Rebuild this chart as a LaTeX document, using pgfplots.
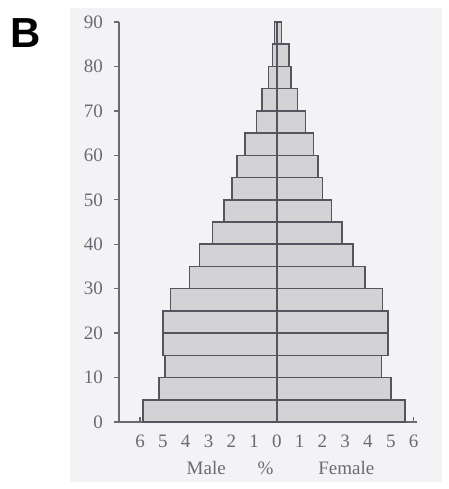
\documentclass[border=0pt]{standalone}
\usepackage{fontspec}
\setmainfont{Liberation Serif}
\newfontfamily\panelfont{Liberation Sans}
\usepackage{pgfplots}
\usepackage{pgfplotstable}
\pgfplotsset{compat=1.18}

\definecolor{scanbg}{HTML}{F3F3F6}
\definecolor{barfill}{HTML}{D3D3D6}
\definecolor{barline}{HTML}{55555F}
\definecolor{inkgray}{HTML}{6A6A74}

% age group midpoint, male % (negative), female %
\pgfplotstableread{
age  male   female
2.5  -5.87  5.62
7.5  -5.18  5.01
12.5 -4.92  4.60
17.5 -5.01  4.89
22.5 -5.01  4.89
27.5 -4.67  4.64
32.5 -3.84  3.88
37.5 -3.39  3.33
42.5 -2.82  2.85
47.5 -2.31  2.39
52.5 -1.97  2.01
57.5 -1.75  1.80
62.5 -1.39  1.60
67.5 -0.89  1.26
72.5 -0.65  0.91
77.5 -0.37  0.63
82.5 -0.19  0.53
87.5 -0.11  0.21
}\pyramid

\begin{document}
\begin{tikzpicture}
\useasboundingbox (0,0) rectangle (224.5pt,244.5pt);
\fill[scanbg] (35pt,3.5pt) rectangle (221pt,240.5pt);
\node[font=\panelfont\bfseries\fontsize{21}{22}\selectfont] at (13pt,228pt) {B};
\begin{axis}[
  at={(59.5pt,33.5pt)}, anchor=south west,
  scale only axis,
  width=149pt, height=200pt,
  xmin=-6.93, xmax=6.15,
  ymin=0, ymax=90,
  axis lines=left,
  axis line style={-, inkgray, line width=0.8pt},
  tick style={inkgray, line width=0.7pt},
  tick align=inside,
  major tick length=2.5pt,
  xtick={-6,-5,-4,-3,-2,-1,0,1,2,3,4,5,6},
  ytick={0,10,20,30,40,50,60,70,80,90},
  xticklabel={\pgfmathparse{abs(\tick)}\pgfmathprintnumber{\pgfmathresult}},
  /pgf/number format/assume math mode=true,
  tick label style={font=\fontsize{9.5}{10}\selectfont, text=inkgray},
  xticklabel style={yshift=-3pt},
  yticklabel style={xshift=-2pt},
  xbar, bar width=5, bar shift=0pt,
  clip=false,
]
\addplot[fill=barfill, draw=barline, line width=0.8pt] table[x=male, y=age] {\pyramid};
\addplot[fill=barfill, draw=barline, line width=0.8pt] table[x=female, y=age] {\pyramid};
\addplot[sharp plot, barline, line width=0.8pt] coordinates {(0,0) (0,90)};
\node[font=\fontsize{9.5}{10}\selectfont, text=inkgray] at (axis cs:-3.1,0) [yshift=-23pt] {Male};
\node[font=\fontsize{9.5}{10}\selectfont, text=inkgray] at (axis cs:-0.5,0) [yshift=-23pt] {\%};
\node[font=\fontsize{9.5}{10}\selectfont, text=inkgray] at (axis cs:3.05,0) [yshift=-23pt] {Female};
\end{axis}
\end{tikzpicture}
\end{document}
